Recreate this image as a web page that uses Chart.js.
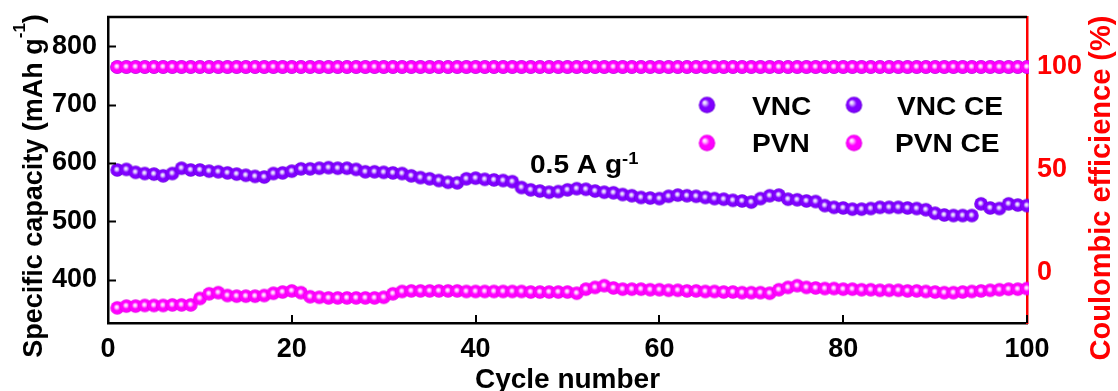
<!DOCTYPE html>
<html>
<head>
<meta charset="utf-8">
<script src="https://cdn.jsdelivr.net/npm/chart.js@4"></script>
<style>
  html, body { margin: 0; padding: 0; background: #fff; }
  #wrap { width: 1118px; height: 391px; position: relative; }
</style>
</head>
<body>
<div id="wrap"><canvas id="chart"></canvas></div>
<script>
// Cycle index (x values)
const cycles = [
  1, 2, 3, 4, 5, 6, 7, 8, 9, 10, 11, 12, 13, 14, 15, 16, 17, 18, 19, 20,
  21, 22, 23, 24, 25, 26, 27, 28, 29, 30, 31, 32, 33, 34, 35, 36, 37, 38, 39, 40,
  41, 42, 43, 44, 45, 46, 47, 48, 49, 50, 51, 52, 53, 54, 55, 56, 57, 58, 59, 60,
  61, 62, 63, 64, 65, 66, 67, 68, 69, 70, 71, 72, 73, 74, 75, 76, 77, 78, 79, 80,
  81, 82, 83, 84, 85, 86, 87, 88, 89, 90, 91, 92, 93, 94, 95, 96, 97, 98, 99, 100
];

// Specific capacity, mAh g-1
const vncCapacity = [
  588, 589, 584, 582, 581, 578, 582, 591, 588, 588, 586, 585, 583, 581, 579, 577, 576, 582, 583, 586,
  590, 590, 591, 592, 591, 591, 589, 585, 585, 584, 583, 582, 578, 575, 573, 570, 567, 566, 573, 574,
  572, 571, 570, 568, 558, 554, 552, 550, 551, 554, 556, 555, 552, 550, 549, 546, 544, 541, 540, 539,
  543, 545, 544, 543, 541, 539, 538, 536, 535, 533, 539, 544, 545, 538, 537, 535, 534, 527, 524, 523,
  521, 521, 522, 524, 524, 524, 523, 522, 520, 514, 511, 510, 510, 510, 530, 523, 522, 530, 528, 527
];
const pvnCapacity = [
  352, 355, 355, 356, 356, 356, 357, 357, 357, 368, 376, 378, 373, 372, 372, 372, 373, 377, 379, 381,
  378, 371, 370, 369, 369, 369, 369, 369, 369, 370, 376, 380, 381, 381, 381, 381, 381, 381, 380, 380,
  380, 380, 380, 380, 380, 379, 379, 379, 379, 379, 377, 384, 387, 390, 386, 384, 384, 384, 383, 383,
  382, 382, 381, 381, 380, 380, 379, 379, 378, 378, 378, 377, 383, 387, 390, 387, 386, 385, 385, 384,
  384, 383, 383, 382, 382, 382, 381, 381, 380, 379, 378, 378, 379, 380, 381, 382, 383, 384, 384, 385
];

// Coulombic efficiency, %
const vncCE = [
  100, 100, 100, 100, 100, 100, 100, 100, 100, 100, 100, 100, 100, 100, 100, 100, 100, 100, 100, 100,
  100, 100, 100, 100, 100, 100, 100, 100, 100, 100, 100, 100, 100, 100, 100, 100, 100, 100, 100, 100,
  100, 100, 100, 100, 100, 100, 100, 100, 100, 100, 100, 100, 100, 100, 100, 100, 100, 100, 100, 100,
  100, 100, 100, 100, 100, 100, 100, 100, 100, 100, 100, 100, 100, 100, 100, 100, 100, 100, 100, 100,
  100, 100, 100, 100, 100, 100, 100, 100, 100, 100, 100, 100, 100, 100, 100, 100, 100, 100, 100, 100
];
const pvnCE = [
  100, 100, 100, 100, 100, 100, 100, 100, 100, 100, 100, 100, 100, 100, 100, 100, 100, 100, 100, 100,
  100, 100, 100, 100, 100, 100, 100, 100, 100, 100, 100, 100, 100, 100, 100, 100, 100, 100, 100, 100,
  100, 100, 100, 100, 100, 100, 100, 100, 100, 100, 100, 100, 100, 100, 100, 100, 100, 100, 100, 100,
  100, 100, 100, 100, 100, 100, 100, 100, 100, 100, 100, 100, 100, 100, 100, 100, 100, 100, 100, 100,
  100, 100, 100, 100, 100, 100, 100, 100, 100, 100, 100, 100, 100, 100, 100, 100, 100, 100, 100, 100
];

// Tick labels
const cycleTicks = [0, 20, 40, 60, 80, 100];
const capacityTicks = [400, 500, 600, 700, 800];
const ceTicks = [0, 50, 100];

const FONT = '"Liberation Sans", Arial, sans-serif';
const RED = '#ff0000';
const WIDEN = 1.08; // horizontal stretch for the drawn captions

// Glossy sphere marker drawn into a small offscreen canvas
function sphere(r, light, base, rim, hx, hy) {
  const s = Math.ceil(r * 2) + 2;
  const c = document.createElement('canvas');
  c.width = s; c.height = s;
  const g = c.getContext('2d');
  const cx = s / 2, cy = s / 2;
  const grad = g.createRadialGradient(cx + hx * r, cy + hy * r, 0, cx, cy, r);
  grad.addColorStop(0, '#ffffff');
  grad.addColorStop(0.2, light);
  grad.addColorStop(0.5, base);
  grad.addColorStop(0.85, base);
  grad.addColorStop(1, rim);
  g.fillStyle = grad;
  g.beginPath();
  g.arc(cx, cy, r, 0, Math.PI * 2);
  g.fill();
  return c;
}

const violet = { light: '#dcc4ff', base: '#8000ff', rim: '#6200d4' };
const magenta = { light: '#ffc4ff', base: '#ff00ff', rim: '#dc00dc' };

const vncDot = sphere(6.8, violet.light, violet.base, violet.rim, -0.1, -0.15);
const pvnDot = sphere(6.8, magenta.light, magenta.base, magenta.rim, -0.1, -0.15);

const legendDots = {
  'VNC': sphere(8.2, violet.light, violet.base, violet.rim, -0.35, -0.35),
  'VNC CE': sphere(8.2, violet.light, violet.base, violet.rim, -0.35, -0.35),
  'PVN': sphere(8.2, magenta.light, magenta.base, magenta.rim, -0.35, -0.35),
  'PVN CE': sphere(8.2, magenta.light, magenta.base, magenta.rim, -0.35, -0.35)
};

function pairs(xs, ys) {
  return xs.map((x, i) => ({ x, y: ys[i] }));
}

function series(label, values, axis, dot, order) {
  return {
    label,
    order,
    data: pairs(cycles, values),
    yAxisID: axis,
    showLine: false,
    pointStyle: dot,
    pointRadius: 7,
    pointHoverRadius: 7,
    clip: { left: 12, right: 2, top: 12, bottom: 12 }
  };
}

// Text with a superscript run, optionally stretched horizontally
function drawSup(ctx, x, y, main, sup, tail, size, supSize, raise, align, stretch) {
  ctx.save();
  ctx.translate(x, y);
  ctx.scale(stretch || 1, 1);
  ctx.font = `bold ${size}px ${FONT}`;
  const w1 = ctx.measureText(main).width;
  const w3 = tail ? ctx.measureText(tail).width : 0;
  ctx.font = `bold ${supSize}px ${FONT}`;
  const w2 = ctx.measureText(sup).width;
  const total = w1 + w2 + w3;
  const start = align === 'center' ? -total / 2 : 0;
  ctx.textAlign = 'left';
  ctx.textBaseline = 'alphabetic';
  ctx.font = `bold ${size}px ${FONT}`;
  ctx.fillText(main, start, 0);
  ctx.font = `bold ${supSize}px ${FONT}`;
  ctx.fillText(sup, start + w1, -raise);
  if (tail) {
    ctx.font = `bold ${size}px ${FONT}`;
    ctx.fillText(tail, start + w1 + w2, 0);
  }
  ctx.restore();
}

function stretchedText(ctx, text, x, y, stretch) {
  ctx.save();
  ctx.translate(x, y);
  ctx.scale(stretch, 1);
  ctx.fillText(text, 0, 0);
  ctx.restore();
}

const decorations = {
  id: 'decorations',
  afterDatasetsDraw(chart) {
    const { ctx, chartArea: a, scales } = chart;
    ctx.save();
    // frame top edge
    ctx.strokeStyle = '#000';
    ctx.lineWidth = 2.5;
    ctx.beginPath();
    ctx.moveTo(a.left - 1, a.top);
    ctx.lineTo(a.right, a.top);
    ctx.stroke();
    // inward tick marks
    ctx.lineWidth = 2;
    capacityTicks.forEach(v => {
      const y = Math.round(scales.y.getPixelForValue(v)) + 0.5;
      ctx.beginPath();
      ctx.moveTo(a.left, y);
      ctx.lineTo(a.left + 8, y);
      ctx.stroke();
    });
    cycleTicks.forEach(v => {
      const x = Math.round(scales.x.getPixelForValue(v));
      ctx.beginPath();
      ctx.moveTo(x, a.bottom);
      ctx.lineTo(x, a.bottom - 8);
      ctx.stroke();
    });
    ctx.restore();
  },
  afterDraw(chart) {
    const { ctx, chartArea: a } = chart;
    ctx.save();
    ctx.fillStyle = '#000';

    // x title
    ctx.font = `bold 28px ${FONT}`;
    ctx.textAlign = 'center';
    ctx.textBaseline = 'alphabetic';
    ctx.fillText('Cycle number', (a.left + a.right) / 2, 388);

    // left title (rotated, reads upward)
    ctx.save();
    ctx.translate(42, 186);
    ctx.rotate(-Math.PI / 2);
    drawSup(ctx, 0, 0, 'Specific capacity (mAh g', '-1', ')', 27, 17, 17, 'center', 1);
    ctx.restore();

    // right title (rotated, reads upward)
    ctx.save();
    ctx.fillStyle = RED;
    ctx.translate(1110, 188);
    ctx.rotate(-Math.PI / 2);
    ctx.font = `bold 29px ${FONT}`;
    ctx.textAlign = 'center';
    ctx.textBaseline = 'alphabetic';
    ctx.fillText('Coulombic efficience (%)', 0, 0);
    ctx.restore();

    // current density note
    drawSup(ctx, 530, 173, '0.5 A g', '-1', '', 26, 17, 9, 'left', WIDEN);

    // legend, two columns
    const grid = [
      ['VNC', 707, 105, 752, 115],
      ['VNC CE', 854, 105, 897, 115],
      ['PVN', 707, 143, 752, 152],
      ['PVN CE', 854, 143, 895, 152]
    ];
    ctx.font = `bold 26px ${FONT}`;
    ctx.textAlign = 'left';
    ctx.textBaseline = 'alphabetic';
    chart.data.datasets.forEach(ds => {
      const g = grid.find(r => r[0] === ds.label);
      if (!g) return;
      const dot = legendDots[ds.label];
      ctx.drawImage(dot, g[1] - dot.width / 2, g[2] - dot.height / 2);
      stretchedText(ctx, ds.label, g[3], g[4], WIDEN);
    });
    ctx.restore();
  }
};

const noVerticalPad = s => { s.paddingTop = 0; s.paddingBottom = 0; };

new Chart(document.getElementById('chart'), {
  type: 'line',
  data: {
    datasets: [
      series('VNC', vncCapacity, 'y', vncDot, 3),
      series('PVN', pvnCapacity, 'y', pvnDot, 2),
      series('VNC CE', vncCE, 'y2', vncDot, 1),
      series('PVN CE', pvnCE, 'y2', pvnDot, 0)
    ]
  },
  options: {
    responsive: true,
    maintainAspectRatio: false,
    animation: false,
    events: [],
    layout: { padding: { top: 17, left: 0, right: 0, bottom: 0 } },
    plugins: {
      legend: { display: false },
      tooltip: { enabled: false },
      title: { display: false }
    },
    scales: {
      x: {
        type: 'linear',
        min: 0,
        max: 100,
        afterBuildTicks: s => { s.ticks = cycleTicks.map(v => ({ value: v })); },
        afterFit: s => { s.height = 68; s.paddingLeft = 0; s.paddingRight = 0; },
        grid: { display: false, drawTicks: false },
        border: { display: true, color: '#000', width: 2.5 },
        ticks: {
          color: '#000',
          padding: 10,
          maxRotation: 0,
          autoSkip: false,
          font: { family: FONT, size: 27, weight: 'bold' }
        }
      },
      y: {
        type: 'linear',
        position: 'left',
        min: 326,
        max: 850,
        afterBuildTicks: s => { s.ticks = capacityTicks.map(v => ({ value: v })); },
        afterFit: s => { s.width = 108; noVerticalPad(s); },
        grid: { display: false, drawTicks: false },
        border: { display: true, color: '#000', width: 2.5 },
        ticks: {
          color: '#000',
          padding: 11,
          font: { family: FONT, size: 27, weight: 'bold' }
        }
      },
      y2: {
        type: 'linear',
        position: 'right',
        min: -24.5,
        max: 124.3,
        afterBuildTicks: s => { s.ticks = ceTicks.map(v => ({ value: v })); },
        afterFit: s => { s.width = 91; noVerticalPad(s); },
        grid: { display: false, drawTicks: false },
        border: { display: true, color: RED, width: 2.5 },
        ticks: {
          color: RED,
          padding: 10,
          font: { family: FONT, size: 27, weight: 'bold' }
        }
      }
    }
  },
  plugins: [decorations]
});
</script>
</body>
</html>
